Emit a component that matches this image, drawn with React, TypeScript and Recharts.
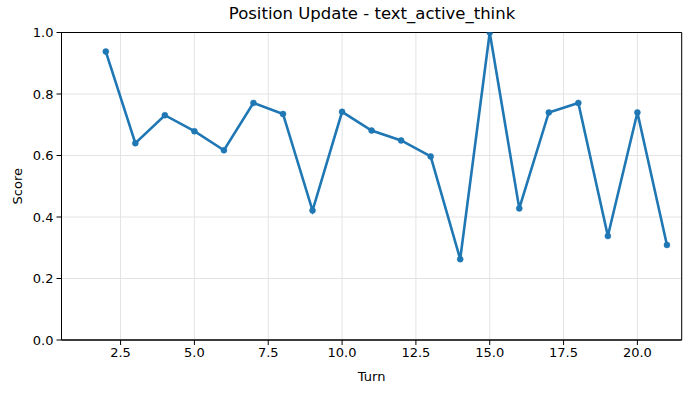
import {
  CartesianGrid,
  Line,
  LineChart,
  ReferenceArea,
  XAxis,
  YAxis,
} from 'recharts';

const turns = [2, 3, 4, 5, 6, 7, 8, 9, 10, 11, 12, 13, 14, 15, 16, 17, 18, 19, 20, 21];
const scores = [
  0.938, 0.64, 0.731, 0.679, 0.617, 0.771, 0.735, 0.421, 0.742, 0.681,
  0.649, 0.597, 0.263, 1.0, 0.428, 0.74, 0.771, 0.338, 0.74, 0.309,
];
const xTicks = [2.5, 5, 7.5, 10, 12.5, 15, 17.5, 20];
const yTicks = [0, 0.2, 0.4, 0.6, 0.8, 1.0];

const data = turns.map((turn, i) => ({ turn, score: scores[i] }));

const font = 'DejaVu Sans, sans-serif';
const tickStyle = { fill: '#000', fontSize: 13, fontFamily: font };

export default function App() {
  return (
    <div style={{ position: 'absolute', left: 0, top: 0, width: 691, height: 393, background: '#fff' }}>
      <div
        style={{
          position: 'absolute',
          top: 4,
          left: 62,
          width: 620,
          textAlign: 'center',
          fontFamily: font,
          fontSize: 16.5,
          color: '#000',
        }}
      >
        Position Update - text_active_think
      </div>
      <LineChart
        width={691}
        height={393}
        data={data}
        margin={{ top: 32.5, right: 9.3, left: 11.5, bottom: 8 }}
      >
        <CartesianGrid stroke="#e3e3e3" strokeWidth={1} />
        <XAxis
          dataKey="turn"
          type="number"
          domain={[0.5, 21.5]}
          ticks={xTicks}
          tickFormatter={(v: number) => v.toFixed(1)}
          allowDataOverflow
          height={45}
          tickSize={5}
          tickMargin={3}
          stroke="#000"
          tick={tickStyle}
          label={{
            value: 'Turn',
            position: 'insideBottom',
            offset: 4,
            style: { fill: '#000', fontSize: 13, fontFamily: font },
          }}
        />
        <YAxis
          type="number"
          domain={[0, 1]}
          ticks={yTicks}
          tickFormatter={(v: number) => v.toFixed(1)}
          allowDataOverflow
          width={50}
          tickSize={5}
          tickMargin={3}
          stroke="#000"
          tick={tickStyle}
          label={{
            value: 'Score',
            angle: -90,
            position: 'insideLeft',
            offset: 5.5,
            style: { fill: '#000', fontSize: 13, fontFamily: font, textAnchor: 'middle' },
          }}
        />
        <ReferenceArea x1={0.5} x2={21.5} y1={0} y2={1} fill="none" stroke="#000" strokeWidth={1} ifOverflow="visible" />
        <Line
          type="linear"
          dataKey="score"
          stroke="#1f77b4"
          strokeWidth={2.6}
          dot={{ r: 3, fill: '#1f77b4', stroke: '#1f77b4', strokeWidth: 0.5 }}
          activeDot={false}
          isAnimationActive={false}
        />
      </LineChart>
    </div>
  );
}
